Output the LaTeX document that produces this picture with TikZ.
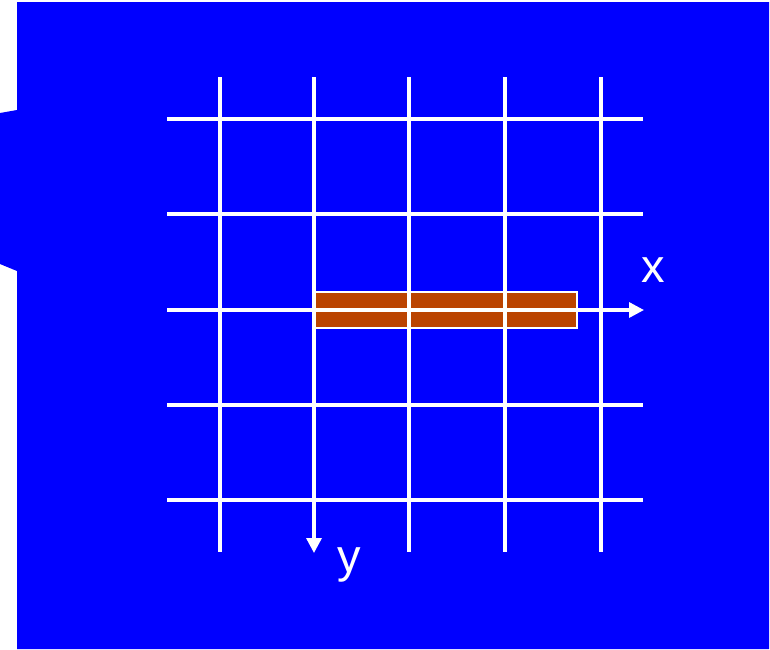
\documentclass[tikz,border=0pt]{standalone}
\usepackage{fontspec}
\setmainfont{Liberation Sans}
\usetikzlibrary{arrows.meta}
\definecolor{bg}{HTML}{0000FF}
\definecolor{bar}{HTML}{BB4400}
\tikzset{
  gridline/.style={draw=white, line width=3.3pt},
  axisline/.style={draw=white, line width=3.3pt, -{Triangle[length=15pt,width=15pt]}},
  lbl/.style={text=white, font=\fontsize{47}{50}\selectfont, inner sep=0pt}
}
\begin{document}
\begin{tikzpicture}[x=1pt,y=-1pt]
\useasboundingbox (0,0) rectangle (770,649);
\fill[white] (0,0) rectangle (770,649);
\fill[bg] (17,2) -- (769,2) -- (769,649) -- (17,649) -- (17,271) -- (0,264) -- (0,113) -- (17,110) -- cycle;
\node[draw=white, line width=1.5pt, fill=bar, minimum width=262pt, minimum height=36pt, inner sep=0pt, anchor=north west] (bar) at (314,291) {};
% vertical lines
\foreach \xx/\nm in {220/v1,409/v3,505/v4,601/v5}{
  \coordinate (\nm t) at (\xx,77);
  \coordinate (\nm b) at (\xx,552);
  \draw[gridline] (\nm t) -- (\nm b);
}
% horizontal lines
\foreach \yy/\nm in {119/h1,214/h2,405/h4,500/h5}{
  \coordinate (\nm l) at (167,\yy);
  \coordinate (\nm r) at (643,\yy);
  \draw[gridline] (\nm l) -- (\nm r);
}
\coordinate (xs) at (167,310);
\coordinate (xe) at (644,310);
\coordinate (ys) at (314,77);
\coordinate (ye) at (314,553);
\draw[axisline] (xs) -- (xe);
\draw[axisline] (ys) -- (ye);
\node[lbl] (xl) at (653,270) {x};
\node[lbl] (yl) at (349,565) {y};
\end{tikzpicture}
\end{document}
